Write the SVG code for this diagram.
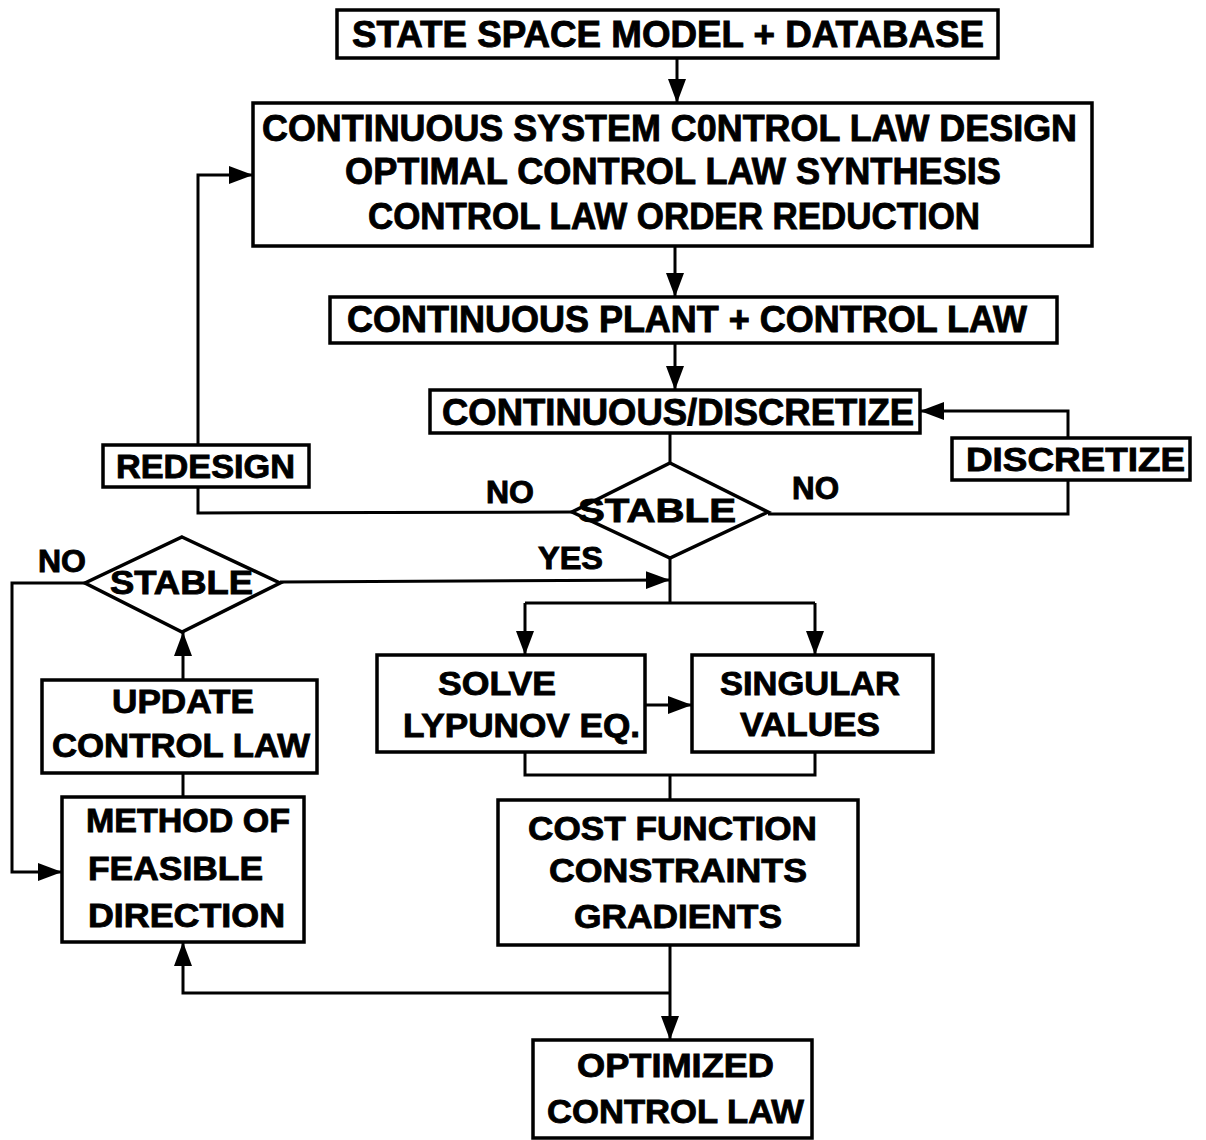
<svg xmlns="http://www.w3.org/2000/svg" width="1206" height="1140" viewBox="0 0 1206 1140">
<defs>
<marker id="ah" markerUnits="userSpaceOnUse" markerWidth="26" markerHeight="20" refX="24" refY="10" orient="auto">
<path d="M0,1 L24,10 L0,19 Z" fill="#000"/>
</marker>
<style>
.box{fill:#fff;stroke:#000;stroke-width:3.5}
.ln{fill:none;stroke:#000;stroke-width:3}
.t{font-family:"Liberation Sans",Arial,Helvetica,sans-serif;font-weight:bold;fill:#000;stroke:#000;stroke-width:0.9}
.big{font-size:37px}
.mid{font-size:34px}
.sm{font-size:31px}
</style>
</defs>
<rect width="1206" height="1140" fill="#fff"/>
<g id="connectors">
<line class="ln" x1="677" y1="58" x2="677" y2="103" marker-end="url(#ah)"/>
<line class="ln" x1="675" y1="246" x2="675" y2="297" marker-end="url(#ah)"/>
<line class="ln" x1="675" y1="343" x2="675" y2="390" marker-end="url(#ah)"/>
<line class="ln" x1="670" y1="433" x2="670" y2="463"/>
<polyline class="ln" points="572,512 198,513 198,487"/>
<polyline class="ln" points="198,445 198,175 253,175" marker-end="url(#ah)"/>
<polyline class="ln" points="768,514 1068,514 1068,480"/>
<polyline class="ln" points="1068,438 1068,411 920,411" marker-end="url(#ah)"/>
<line class="ln" x1="670" y1="558" x2="670" y2="603"/>
<line class="ln" x1="280" y1="582" x2="670" y2="580" marker-end="url(#ah)"/>
<line class="ln" x1="525" y1="603" x2="815" y2="603"/>
<line class="ln" x1="525" y1="603" x2="525" y2="655" marker-end="url(#ah)"/>
<line class="ln" x1="815" y1="603" x2="815" y2="655" marker-end="url(#ah)"/>
<line class="ln" x1="645" y1="705" x2="692" y2="705" marker-end="url(#ah)"/>
<polyline class="ln" points="525,752 525,775 815,775 815,752"/>
<line class="ln" x1="670" y1="775" x2="670" y2="800"/>
<line class="ln" x1="670" y1="945" x2="670" y2="1040" marker-end="url(#ah)"/>
<polyline class="ln" points="670,993 183,993 183,942" marker-end="url(#ah)"/>
<line class="ln" x1="183" y1="773" x2="183" y2="797"/>
<line class="ln" x1="183" y1="680" x2="183" y2="632" marker-end="url(#ah)"/>
<polyline class="ln" points="85,583 12,583 12,872 62,872" marker-end="url(#ah)"/>
</g>
<g id="n-state-space">
<rect class="box" x="337" y="10" width="661" height="48"/>
<text class="t big" x="352" y="47" textLength="632" lengthAdjust="spacingAndGlyphs">STATE SPACE MODEL + DATABASE</text>
</g>
<g id="n-design">
<rect class="box" x="253" y="103" width="839" height="143"/>
<text class="t big" x="262" y="141" textLength="815" lengthAdjust="spacingAndGlyphs">CONTINUOUS SYSTEM C0NTROL LAW DESIGN</text>
<text class="t big" x="345" y="184" textLength="656" lengthAdjust="spacingAndGlyphs">OPTIMAL CONTROL LAW SYNTHESIS</text>
<text class="t big" x="368" y="229" textLength="612" lengthAdjust="spacingAndGlyphs">CONTROL LAW ORDER REDUCTION</text>
</g>
<g id="n-plant">
<rect class="box" x="330" y="297" width="727" height="46"/>
<text class="t big" x="347" y="332" textLength="680" lengthAdjust="spacingAndGlyphs">CONTINUOUS PLANT + CONTROL LAW</text>
</g>
<g id="n-contdisc">
<rect class="box" x="430" y="390" width="490" height="43"/>
<text class="t big" x="442" y="425" textLength="472" lengthAdjust="spacingAndGlyphs">CONTINUOUS/DISCRETIZE</text>
</g>
<g id="n-redesign">
<rect class="box" x="103" y="445" width="206" height="42"/>
<text class="t mid" x="116" y="478" textLength="179" lengthAdjust="spacingAndGlyphs">REDESIGN</text>
</g>
<g id="n-discretize">
<rect class="box" x="952" y="438" width="238" height="42"/>
<text class="t mid" x="966" y="471" textLength="219" lengthAdjust="spacingAndGlyphs">DISCRETIZE</text>
</g>
<g id="n-stable1">
<polygon class="box" points="670,463 768,512 670,558 572,512"/>
<text class="t mid" x="578" y="522" textLength="158" lengthAdjust="spacingAndGlyphs">STABLE</text>
</g>
<g id="labels">
<text class="t sm" x="486" y="503" textLength="48" lengthAdjust="spacingAndGlyphs">NO</text>
<text class="t sm" x="792" y="499" textLength="47" lengthAdjust="spacingAndGlyphs">NO</text>
<text class="t sm" x="538" y="569" textLength="65" lengthAdjust="spacingAndGlyphs">YES</text>
<text class="t sm" x="38" y="572" textLength="48" lengthAdjust="spacingAndGlyphs">NO</text>
</g>
<g id="n-stable2">
<polygon class="box" points="182,537 280,583 182,632 85,583"/>
<text class="t mid" x="110" y="594" textLength="143" lengthAdjust="spacingAndGlyphs">STABLE</text>
</g>
<g id="n-update">
<rect class="box" x="42" y="680" width="275" height="93"/>
<text class="t mid" x="112" y="713" textLength="142" lengthAdjust="spacingAndGlyphs">UPDATE</text>
<text class="t mid" x="52" y="757" textLength="258" lengthAdjust="spacingAndGlyphs">CONTROL LAW</text>
</g>
<g id="n-method">
<rect class="box" x="62" y="797" width="242" height="145"/>
<text class="t mid" x="86" y="832" textLength="204" lengthAdjust="spacingAndGlyphs">METHOD OF</text>
<text class="t mid" x="88" y="880" textLength="175" lengthAdjust="spacingAndGlyphs">FEASIBLE</text>
<text class="t mid" x="88" y="927" textLength="197" lengthAdjust="spacingAndGlyphs">DIRECTION</text>
</g>
<g id="n-solve">
<rect class="box" x="377" y="655" width="268" height="97"/>
<text class="t mid" x="438" y="695" textLength="118" lengthAdjust="spacingAndGlyphs">SOLVE</text>
<text class="t mid" x="403" y="737" textLength="237" lengthAdjust="spacingAndGlyphs">LYPUNOV EQ.</text>
</g>
<g id="n-singular">
<rect class="box" x="692" y="655" width="241" height="97"/>
<text class="t mid" x="720" y="695" textLength="180" lengthAdjust="spacingAndGlyphs">SINGULAR</text>
<text class="t mid" x="740" y="736" textLength="140" lengthAdjust="spacingAndGlyphs">VALUES</text>
</g>
<g id="n-cost">
<rect class="box" x="498" y="800" width="360" height="145"/>
<text class="t mid" x="528" y="840" textLength="289" lengthAdjust="spacingAndGlyphs">COST FUNCTION</text>
<text class="t mid" x="549" y="882" textLength="258" lengthAdjust="spacingAndGlyphs">CONSTRAINTS</text>
<text class="t mid" x="574" y="928" textLength="208" lengthAdjust="spacingAndGlyphs">GRADIENTS</text>
</g>
<g id="n-optimized">
<rect class="box" x="533" y="1040" width="279" height="98"/>
<text class="t mid" x="577" y="1077" textLength="197" lengthAdjust="spacingAndGlyphs">OPTIMIZED</text>
<text class="t mid" x="547" y="1123" textLength="257" lengthAdjust="spacingAndGlyphs">CONTROL LAW</text>
</g>
</svg>
